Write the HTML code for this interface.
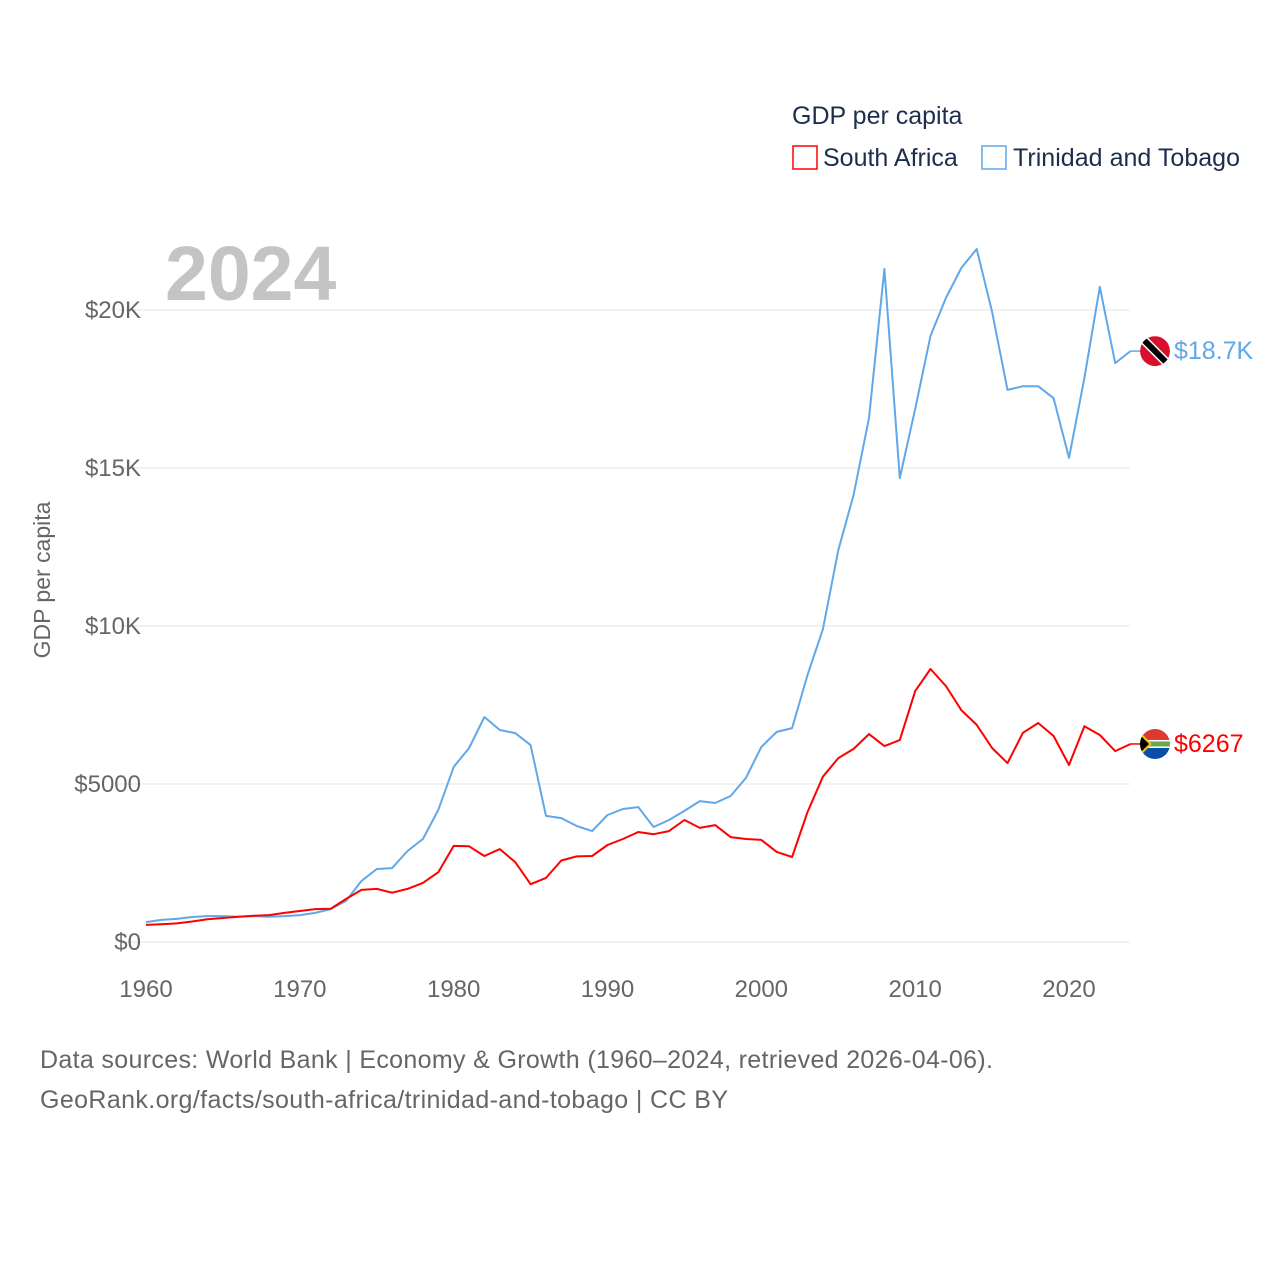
<!DOCTYPE html>
<html><head><meta charset="utf-8"><style>
body{margin:0;background:#fff;}
svg text{font-family:"Liberation Sans",sans-serif;}
</style></head><body>
<svg id="chart" width="1280" height="1280" viewBox="0 0 1280 1280" xmlns="http://www.w3.org/2000/svg">
<rect width="1280" height="1280" fill="#fff"/>
<g id="grid"></g>
<g id="yticks"></g>
<g id="xticks"></g>
<text x="165" y="300" font-size="77" font-weight="bold" fill="#c4c4c4">2024</text>
<text transform="translate(50,580) rotate(-90)" text-anchor="middle" font-size="23" fill="#666">GDP per capita</text>
<text x="792" y="124" font-size="25" fill="#1d2e4d">GDP per capita</text>
<g>
<rect x="793" y="146" width="24" height="23" fill="none" stroke="#ff0000" stroke-width="1.5"/>
<text x="823" y="166" font-size="25" fill="#1d2e4d">South Africa</text></g>
<g>
<rect x="982" y="146" width="24" height="23" fill="none" stroke="#5fa8ea" stroke-width="1.5"/>
<text x="1013" y="166" font-size="25" fill="#1d2e4d" textLength="227">Trinidad and Tobago</text></g>
<g id="series"></g>
<text x="40" y="1068" font-size="25" fill="#666" textLength="953">Data sources: World Bank | Economy &amp; Growth (1960–2024, retrieved 2026-04-06).</text>
<text x="40" y="1108" font-size="25" fill="#666" textLength="688">GeoRank.org/facts/south-africa/trinidad-and-tobago | CC BY</text>
</svg>
<script>
const years=[];for(let y=1960;y<=2024;y++)years.push(y);
const trinidad=[630,700,730,790,820,820,800,820,800,820,850,920,1040,1300,1930,2310,2340,2880,3260,4180,5540,6140,7120,6710,6610,6230,3990,3920,3670,3510,4020,4210,4270,3640,3860,4150,4460,4400,4620,5190,6170,6650,6770,8450,9900,12400,14150,16580,21300,14680,16870,19180,20380,21330,21930,19940,17470,17590,17590,17210,15320,17850,20730,18320,18700];
const southAfrica=[540,560,590,650,720,760,800,830,850,920,980,1040,1050,1360,1650,1680,1560,1680,1870,2210,3040,3030,2720,2940,2530,1830,2030,2580,2710,2720,3070,3260,3480,3410,3510,3860,3610,3700,3320,3260,3230,2850,2690,4110,5230,5820,6110,6580,6200,6390,7940,8640,8100,7340,6870,6140,5660,6620,6930,6520,5600,6830,6550,6040,6267];
const yTicks=[0,5000,10000,15000,20000];
const yTickLabels=["$0","$5000","$10K","$15K","$20K"];
const xTicks=[1960,1970,1980,1990,2000,2010,2020];
const NS="http://www.w3.org/2000/svg";
const xs=y=>146+(y-1960)*(923/60);
const ys=v=>942-v*(632/20000);
function mk(t,a,p){const e=document.createElementNS(NS,t);for(const k in a)e.setAttribute(k,a[k]);p.appendChild(e);return e;}
const grid=document.getElementById('grid'),yt=document.getElementById('yticks'),xt=document.getElementById('xticks'),ser=document.getElementById('series');
yTicks.forEach((v,i)=>{
 const l=mk('line',{x1:117,x2:1130,y1:ys(v),y2:ys(v),stroke:'#e6e6e6','stroke-width':1},grid);
 
 
 const t=mk('text',{x:141,y:ys(v)+8,'text-anchor':'end','font-size':24,fill:'#666'},yt);t.textContent=yTickLabels[i];
 
 
});
xTicks.forEach(y=>{
 const t=mk('text',{x:xs(y),y:997,'text-anchor':'middle','font-size':24,fill:'#666'},xt);t.textContent=y;
 
 
});
function line(vals,color,name){
 const d=vals.map((v,i)=>(i?'L':'M')+xs(years[i]).toFixed(1)+','+ys(v).toFixed(1)).join('');
 const p=mk('path',{d:d,fill:'none',stroke:color,'stroke-width':2,'stroke-linejoin':'round'},ser);
 
 
 const lx=xs(2024),ly=ys(vals[vals.length-1]);
 mk('line',{x1:lx,x2:1142,y1:ly,y2:ly,stroke:color,'stroke-width':1.5},ser);
 return ly;
}
const ty=line(trinidad,'#5fa8ea','trinidad-line');
const sy=line(southAfrica,'#ff0000','south-africa-line');
const f1=mk('g',{},ser);


const cp1=mk('clipPath',{id:'c1'},f1);mk('circle',{cx:1155,cy:ty,r:15},cp1);
const g1=mk('g',{'clip-path':'url(#c1)'},f1);
mk('circle',{cx:1155,cy:ty,r:15,fill:'#d90f2e'},g1);
mk('line',{x1:1140,y1:ty-15,x2:1170,y2:ty+15,stroke:'#fff','stroke-width':9},g1);
mk('line',{x1:1140,y1:ty-15,x2:1170,y2:ty+15,stroke:'#000','stroke-width':6},g1);
const t1=mk('text',{x:1174,y:ty+8,'font-size':25,fill:'#5fa8ea'},ser);t1.textContent='$18.7K';


const f2=mk('g',{},ser);


const cp=mk('clipPath',{id:'c2'},f2);mk('circle',{cx:1155,cy:sy,r:15},cp);
const g2=mk('g',{'clip-path':'url(#c2)'},f2);
mk('rect',{x:1140,y:sy-15,width:30,height:15,fill:'#de3831'},g2);
mk('rect',{x:1140,y:sy,width:30,height:15,fill:'#0a4ea8'},g2);
mk('rect',{x:1140,y:sy-4,width:30,height:8,fill:'#fff'},g2);
mk('rect',{x:1140,y:sy-2.5,width:30,height:5,fill:'#6aa84f'},g2);
mk('polygon',{points:`1140,${sy-12} 1152,${sy} 1140,${sy+12}`,fill:'#f0c020'},g2);
mk('polygon',{points:`1140,${sy-9} 1149,${sy} 1140,${sy+9}`,fill:'#000'},g2);
const t2=mk('text',{x:1174,y:sy+8,'font-size':25,fill:'#ff0000'},ser);t2.textContent='$6267';


</script>
</body></html>
